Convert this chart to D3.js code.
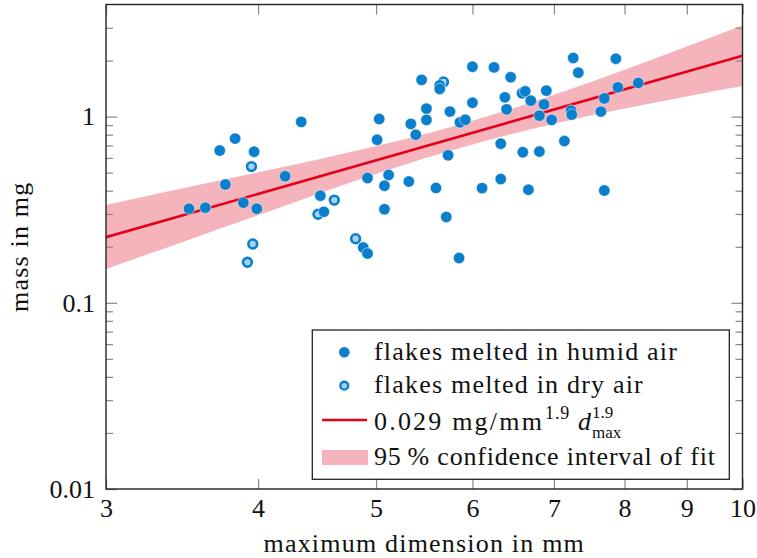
<!DOCTYPE html>
<html>
<head>
<meta charset="utf-8">
<script src="https://cdn.jsdelivr.net/npm/d3@7"></script>
<style>
body { margin: 0; background: #fff; }
text { font-family: "Liberation Serif", serif; fill: #111; }
</style>
</head>
<body>
<svg id="chart" width="757" height="558"></svg>
<script>
// measured flakes (diameter in mm, mass in mg)
var humidDiameter = [3.51, 3.62, 3.72, 3.83, 3.76, 3.97, 3.89, 3.99, 4.34, 4.21,
	4.50, 4.53, 4.88, 4.92, 5.03, 5.01, 4.92, 5.12, 5.08, 5.08,
	5.32, 5.34, 5.39, 5.45, 5.50, 5.50, 5.60, 5.64, 5.64, 5.75,
	5.73, 5.71, 5.85, 5.86, 5.92, 6.00, 6.00, 6.25, 6.11, 6.33,
	6.33, 6.45, 6.38, 6.40, 6.59, 6.63, 6.60, 6.67, 6.70, 6.90,
	6.87, 6.81, 6.97, 6.81, 7.14, 7.23, 7.24, 7.26, 7.33, 7.65,
	7.70, 7.70, 7.87, 7.90, 8.21];
var humidMass = [0.320, 0.324, 0.657, 0.762, 0.432, 0.648, 0.345, 0.320, 0.937, 0.478,
	0.376, 0.308, 0.198, 0.184, 0.970, 0.751, 0.468, 0.486, 0.425, 0.318,
	0.448, 0.914, 0.799, 1.575, 1.104, 0.960, 0.414, 1.472, 1.408, 1.064,
	0.620, 0.289, 0.174, 0.931, 0.961, 1.854, 1.186, 1.838, 0.413, 0.462,
	0.715, 1.628, 1.269, 1.094, 1.334, 1.367, 0.644, 0.405, 1.218, 1.379,
	1.163, 1.012, 0.960, 0.649, 0.739, 1.077, 1.025, 2.064, 1.722, 1.064,
	1.253, 0.401, 2.046, 1.436, 1.516];
var dryDiameter = [3.95, 3.96, 3.92, 4.62, 4.48, 4.81, 5.68];
var dryMass = [0.539, 0.207, 0.165, 0.356, 0.299, 0.221, 1.535];

// power law fit and its 95 % band
var fitDiameter = [3, 10];
var fitMass = [0.225, 2.12];
var bandDiameter = [3, 3.5, 4, 4.5, 5, 5.5, 6, 7, 8, 9, 10];
var bandLower = [0.152, 0.217, 0.295, 0.389, 0.492, 0.601, 0.709, 0.915, 1.104, 1.284, 1.459];
var bandUpper = [0.335, 0.417, 0.502, 0.592, 0.695, 0.809, 0.950, 1.309, 1.787, 2.379, 3.098];

var xTicks = [3, 4, 5, 6, 7, 8, 9, 10];
var yTicks = [0.01, 0.1, 1];
var yMinorTicks = [0.02, 0.03, 0.04, 0.05, 0.06, 0.07, 0.08, 0.09,
	0.2, 0.3, 0.4, 0.5, 0.6, 0.7, 0.8, 0.9, 2, 3];

var BLUE = "#0a7fcc";
var LIGHTBLUE = "#a6d2f0";
var RED = "#e3001b";
var PINK = "#f5b4bb";

// "top" is taken by window.top, so prefix the plot edges
var plotLeft = 106, plotRight = 742.5, plotTop = 4.5, plotBottom = 489;

var svg = d3.select("#chart");

var x = d3.scaleLog().domain([3, 10]).range([plotLeft, plotRight]);
var y = d3.scaleLog().domain([0.01, 4]).range([plotBottom, plotTop]);

svg.append("clipPath").attr("id", "plotclip")
	.append("rect")
	.attr("x", plotLeft).attr("y", plotTop)
	.attr("width", plotRight - plotLeft).attr("height", plotBottom - plotTop);

var plot = svg.append("g").attr("clip-path", "url(#plotclip)");

// confidence band
var area = d3.area()
	.x(function (d, i) { return x(bandDiameter[i]); })
	.y0(function (d, i) { return y(bandLower[i]); })
	.y1(function (d, i) { return y(bandUpper[i]); })
	.curve(d3.curveMonotoneX);

plot.append("path")
	.datum(bandDiameter)
	.attr("d", area)
	.attr("fill", PINK);

// fit line
var line = d3.line()
	.x(function (d, i) { return x(fitDiameter[i]); })
	.y(function (d, i) { return y(fitMass[i]); });

plot.append("path")
	.datum(fitDiameter)
	.attr("d", line)
	.attr("fill", "none")
	.attr("stroke", RED)
	.attr("stroke-width", 2.6);

// dry points first, humid points drawn on top
plot.append("g")
	.selectAll("circle")
	.data(dryDiameter)
	.enter().append("circle")
	.attr("cx", function (d) { return x(d); })
	.attr("cy", function (d, i) { return y(dryMass[i]); })
	.attr("r", 4.4)
	.attr("fill", LIGHTBLUE)
	.attr("stroke", BLUE)
	.attr("stroke-width", 2.6);

plot.append("g")
	.selectAll("circle")
	.data(humidDiameter)
	.enter().append("circle")
	.attr("cx", function (d) { return x(d); })
	.attr("cy", function (d, i) { return y(humidMass[i]); })
	.attr("r", 5.7)
	.attr("fill", BLUE)
	.attr("stroke", "#fff")
	.attr("stroke-width", 0.5);

// axes, ticks point inwards
function styleTicks(g) {
	g.select(".domain").remove();
	g.selectAll(".tick line").attr("stroke", "#888").attr("stroke-width", 1.2);
	g.selectAll(".tick text")
		.attr("fill", "#111")
		.style("font-family", "Liberation Serif")
		.style("font-size", "26px");
}

svg.append("g")
	.attr("transform", "translate(0," + plotBottom + ")")
	.call(d3.axisBottom(x).tickValues(xTicks).tickFormat(d3.format("d")).tickSize(-10).tickPadding(9.5))
	.call(styleTicks);

svg.append("g")
	.attr("transform", "translate(0," + plotTop + ")")
	.call(d3.axisTop(x).tickValues(xTicks).tickFormat("").tickSize(-10))
	.call(styleTicks);

svg.append("g")
	.attr("transform", "translate(" + plotLeft + ",0)")
	.call(d3.axisLeft(y).tickValues(yTicks).tickFormat(function (d) { return String(d); }).tickSize(-11).tickPadding(11))
	.call(styleTicks);

svg.append("g")
	.attr("transform", "translate(" + plotLeft + ",0)")
	.call(d3.axisLeft(y).tickValues(yMinorTicks).tickFormat("").tickSize(-7))
	.call(styleTicks);

svg.append("g")
	.attr("transform", "translate(" + plotRight + ",0)")
	.call(d3.axisRight(y).tickValues(yTicks).tickFormat("").tickSize(-11))
	.call(styleTicks);

svg.append("g")
	.attr("transform", "translate(" + plotRight + ",0)")
	.call(d3.axisRight(y).tickValues(yMinorTicks).tickFormat("").tickSize(-7))
	.call(styleTicks);

svg.append("rect")
	.attr("x", plotLeft).attr("y", plotTop)
	.attr("width", plotRight - plotLeft).attr("height", plotBottom - plotTop)
	.attr("fill", "none")
	.attr("stroke", "#222")
	.attr("stroke-width", 1.4);

// axis titles
svg.append("text")
	.attr("x", (plotLeft + plotRight) / 2)
	.attr("y", 552)
	.attr("text-anchor", "middle")
	.style("font-size", "26px")
	.style("letter-spacing", "1.2px")
	.text("maximum dimension in mm");

svg.append("text")
	.attr("transform", "translate(28," + ((plotTop + plotBottom) / 2) + ") rotate(-90)")
	.attr("text-anchor", "middle")
	.style("font-size", "26px")
	.style("letter-spacing", "1.2px")
	.text("mass in mg");

// legend
var legend = svg.append("g");

legend.append("rect")
	.attr("x", 312.3).attr("y", 330)
	.attr("width", 417).attr("height", 149.3)
	.attr("fill", "#fff")
	.attr("stroke", "#222")
	.attr("stroke-width", 1.3);

var textX = 374;

legend.append("circle")
	.attr("cx", 344.3).attr("cy", 352.3).attr("r", 5.3)
	.attr("fill", BLUE);
legend.append("circle")
	.attr("cx", 344.3).attr("cy", 385.7).attr("r", 3.9)
	.attr("fill", LIGHTBLUE).attr("stroke", BLUE).attr("stroke-width", 2.4);
legend.append("line")
	.attr("x1", 322).attr("x2", 367).attr("y1", 420).attr("y2", 420)
	.attr("stroke", RED).attr("stroke-width", 2.6);
legend.append("rect")
	.attr("x", 322).attr("y", 450).attr("width", 46).attr("height", 15)
	.attr("fill", PINK);

function legendText(xx, yy, s, spacing) {
	return legend.append("text")
		.attr("x", xx).attr("y", yy)
		.style("font-size", "26px")
		.style("letter-spacing", spacing + "px")
		.text(s);
}

legendText(textX, 360, "flakes melted in humid air", 1.2);
legendText(textX, 393, "flakes melted in dry air", 1.2);
legendText(textX, 464.5, "95\u2009% confidence interval of fit", 0.8);

// fit formula: 0.029 mg/mm^1.9 d^1.9_max
var base = legendText(textX, 430, "0.029 mg/mm", 2.2);
var cx = textX + base.node().getComputedTextLength();
var sup1 = legend.append("text")
	.attr("x", cx + 1).attr("y", 419)
	.style("font-size", "18px")
	.style("letter-spacing", "0.8px")
	.text("1.9");
cx += 1 + sup1.node().getComputedTextLength() + 8;
var dd = legend.append("text")
	.attr("x", cx).attr("y", 430)
	.style("font-size", "26px")
	.style("font-style", "italic")
	.text("d");
cx += dd.node().getComputedTextLength() + 1;
legend.append("text")
	.attr("x", cx).attr("y", 418)
	.style("font-size", "17px")
	.text("1.9");
legend.append("text")
	.attr("x", cx).attr("y", 438)
	.style("font-size", "17px")
	.text("max");
</script>
</body>
</html>
